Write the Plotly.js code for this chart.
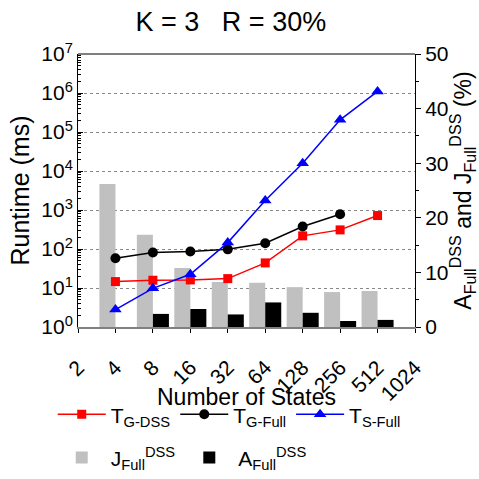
<!DOCTYPE html>
<html><head><meta charset="utf-8">
<script src="https://cdn.plot.ly/plotly-3.0.1.min.js"></script>
<style>html,body{margin:0;padding:0;background:#fff}#chart{width:479px;height:479px}</style>
</head><body><div id="chart"></div>
<script>
// Categories (number of states)
const states = ['2', '4', '8', '16', '32', '64', '128', '256', '512', '1024'];

// Runtime series (ms), left log axis
const tGdssX = ['4', '8', '16', '32', '64', '128', '256', '512'];
const tGdss = [14.6, 15.8, 16.1, 17.4, 44, 217, 309, 720];
const tGfullX = ['4', '8', '16', '32', '64', '128', '256'];
const tGfull = [58, 81, 86, 98, 140, 376, 780];
const tSfullX = ['4', '8', '16', '32', '64', '128', '256', '512'];
const tSfull = [2.8, 9.8, 22.5, 146, 1750, 15800, 205000, 1100000];

// Percentage series (%), right linear axis
const jFullX = ['4', '8', '16', '32', '64', '128', '256', '512'];
const jFull = [26.2, 16.9, 10.8, 8.25, 8.1, 7.3, 6.4, 6.6];
const aFullX = ['8', '16', '32', '64', '128', '256', '512'];
const aFull = [2.4, 3.3, 2.3, 4.5, 2.6, 1.1, 1.3];

// Tick labels
const leftTickVals = [1, 10, 100, 1000, 10000, 100000, 1000000, 10000000];
const leftTickText = ['10<sup>0</sup>', '10<sup>1</sup>', '10<sup>2</sup>', '10<sup>3</sup>',
  '10<sup>4</sup>', '10<sup>5</sup>', '10<sup>6</sup>', '10<sup>7</sup>'];
const rightTickVals = [0, 10, 20, 30, 40, 50];
const xTitle = 'Number of States';

const FONT = 'Liberation Sans, Arial, sans-serif';

const traces = [
  {type: 'bar', x: jFullX, y: jFull, yaxis: 'y', name: 'J<sub>Full</sub><sup>DSS</sup>',
   marker: {color: '#c0c0c0', line: {width: 0}}, legend: 'legend2'},
  {type: 'bar', x: aFullX, y: aFull, yaxis: 'y', name: 'A<sub>Full</sub><sup>DSS</sup>',
   marker: {color: '#000000', line: {width: 0}}, legend: 'legend2'},
  {type: 'scatter', mode: 'lines+markers', x: tGdssX, y: tGdss, yaxis: 'y2', name: 'T<sub>G-DSS</sub>',
   line: {color: '#ff0000', width: 1.5}, marker: {symbol: 'square', size: 9, color: '#ff0000'}, legend: 'legend'},
  {type: 'scatter', mode: 'lines+markers', x: tGfullX, y: tGfull, yaxis: 'y2', name: 'T<sub>G-Full</sub>',
   line: {color: '#000000', width: 1.5}, marker: {symbol: 'circle', size: 10, color: '#000000'}, legend: 'legend'},
  {type: 'scatter', mode: 'lines+markers', x: tSfullX, y: tSfull, yaxis: 'y2', name: 'T<sub>S-Full</sub>',
   line: {color: '#0000ff', width: 1.5}, marker: {symbol: 'triangle-up', size: 11, color: '#0000ff'}, legend: 'legend'}
];

const layout = {
  width: 479, height: 479,
  margin: {l: 78, r: 64, t: 54, b: 152, pad: 0, autoexpand: false},
  paper_bgcolor: '#ffffff', plot_bgcolor: '#ffffff',
  font: {family: FONT, size: 21, color: '#000'},
  title: {text: 'K = 3\u00a0\u00a0\u00a0R = 30%', font: {size: 27, family: FONT},
          x: 0.482, xanchor: 'center', xref: 'container', y: 0.956, yanchor: 'middle', yref: 'container'},
  barmode: 'group', bargap: 0.144, bargroupgap: 0,
  showlegend: true,
  xaxis: {
    type: 'category', categoryorder: 'array', categoryarray: states,
    range: [0, 9], tickvals: states, ticktext: states, tickangle: -45,
    showline: true, linecolor: '#808080', linewidth: 2,
    ticks: 'outside', ticklen: 4, tickcolor: '#000', tickwidth: 1,
    ticklabelstandoff: 14,
    showgrid: false, zeroline: false, automargin: false,
    tickfont: {size: 21}
  },
  yaxis: {
    side: 'right', range: [0, 50], tickvals: rightTickVals,
    showline: true, linecolor: '#000', linewidth: 1,
    ticks: 'outside', ticklen: 5, tickcolor: '#000',
    minor: {ticks: 'outside', ticklen: 3, dtick: 5, tickcolor: '#000', showgrid: false},
    showgrid: false, zeroline: false, automargin: false,
    tickfont: {size: 21},
    title: {text: 'A<sub>Full</sub><sup>DSS</sup> and J<sub>Full</sub><sup>DSS</sup> (%)', font: {size: 23}, standoff: 2}
  },
  yaxis2: {
    overlaying: 'y', side: 'left', type: 'log', range: [0, 7],
    tickvals: leftTickVals, ticktext: leftTickText,
    showline: true, linecolor: '#000', linewidth: 1,
    ticks: 'inside', ticklen: 5, tickcolor: '#000',
    minor: {ticks: 'inside', ticklen: 3, dtick: 'D1', tickcolor: '#000', showgrid: false},
    showgrid: true, gridcolor: '#888888', griddash: 'dot', gridwidth: 1,
    zeroline: false, automargin: false,
    tickfont: {size: 21},
    title: {text: 'Runtime (ms)', font: {size: 25}, standoff: 4}
  },
  annotations: [
    {text: xTitle, xref: 'paper', yref: 'paper', x: 0.5, y: -0.256, xanchor: 'center', yanchor: 'middle',
     showarrow: false, font: {size: 23}}
  ],
  legend: {
    orientation: 'h', x: -0.075, xanchor: 'left', y: -0.246, yanchor: 'top',
    itemwidth: 48, font: {size: 21}, bgcolor: 'rgba(0,0,0,0)', traceorder: 'normal'
  },
  legend2: {
    orientation: 'h', x: -0.075, xanchor: 'left', y: -0.404, yanchor: 'top',
    itemwidth: 48, font: {size: 21}, bgcolor: 'rgba(0,0,0,0)', traceorder: 'normal'
  },
  shapes: [
    {type: 'line', xref: 'paper', yref: 'paper', x0: 0, x1: 1, y0: 1, y1: 1,
     line: {color: '#000', width: 1}}
  ]
};

Plotly.newPlot('chart', traces, layout, {displayModeBar: false, staticPlot: true});
</script>
</body></html>
